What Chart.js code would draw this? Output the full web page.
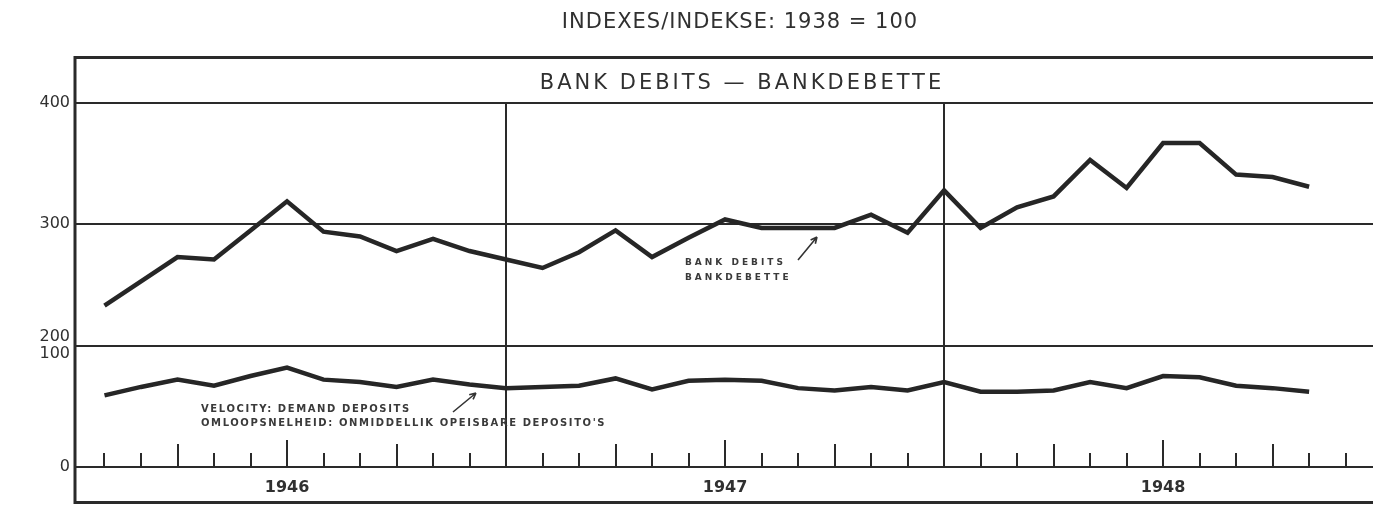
<!DOCTYPE html>
<html>
<head>
<meta charset="utf-8">
<script src="https://cdn.jsdelivr.net/npm/chart.js@4.4.1/dist/chart.umd.min.js"></script>
<style>
html,body{margin:0;padding:0;background:#ffffff;}
#wrap{width:1373px;height:506px;}
</style>
</head>
<body>
<div id="wrap"><canvas id="c" width="1373" height="506"></canvas></div>
<script>
// ---- data (monthly, Jan 1946 - Oct 1948), index 1938 = 100 ----
const months = [
  '1946-01','1946-02','1946-03','1946-04','1946-05','1946-06','1946-07','1946-08','1946-09','1946-10','1946-11','1946-12',
  '1947-01','1947-02','1947-03','1947-04','1947-05','1947-06','1947-07','1947-08','1947-09','1947-10','1947-11','1947-12',
  '1948-01','1948-02','1948-03','1948-04','1948-05','1948-06','1948-07','1948-08','1948-09','1948-10'
];
const bankDebits = [
  233, 253, 273, 271, 295, 319, 294, 290, 278, 288, 278, 271,
  264, 277, 295, 273, 289, 304, 297, 297, 297, 308, 293, 328,
  297, 314, 323, 353, 330, 367, 367, 341, 339, 331
];
const velocity = [
  59, 66, 72, 67, 75, 82, 72, 70, 66, 72, 68, 65,
  66, 67, 73, 64, 71, 72, 71, 65, 63, 66, 63, 70,
  62, 62, 63, 70, 65, 75, 74, 67, 65, 62
];
const years = ['1946', '1947', '1948'];
const yTickValues = [100, 200, 300, 400];
const yTickLabels = [['0'], ['200', '100'], ['300'], ['400']];
const tickMonthCount = 35; // month tick marks Jan 1946 .. Nov 1948

const INK = '#2a2a2a';
const TEXT = '#303030';

const monthIdx = Array.from({length: tickMonthCount}, (_, i) => i);

const framePlugin = {
  id: 'frame',
  beforeDraw(chart) {
    const ctx = chart.ctx;
    ctx.save();
    ctx.fillStyle = '#ffffff';
    ctx.fillRect(0, 0, chart.width, chart.height);
    ctx.restore();
  },
  afterDraw(chart) {
    const ctx = chart.ctx;
    const a = chart.chartArea;
    const xs = chart.scales.x;
    const ys = chart.scales.y;
    const base = ys.getPixelForValue(100);
    ctx.save();
    ctx.strokeStyle = INK;
    ctx.lineCap = 'butt';
    // outer frame
    ctx.lineWidth = 3;
    ctx.beginPath();
    ctx.moveTo(a.left, 56); ctx.lineTo(a.left, 504);
    ctx.moveTo(a.left - 1.5, 57.5); ctx.lineTo(chart.width, 57.5);
    ctx.moveTo(a.left - 1.5, 502.5); ctx.lineTo(chart.width, 502.5);
    ctx.stroke();
    // month tick marks
    ctx.lineWidth = 2;
    ctx.beginPath();
    monthIdx.forEach(i => {
      const m = i % 12;
      if (m === 11) return;
      let h = 14;
      if (m === 2 || m === 8) h = 23;
      if (m === 5) h = 27;
      const px = Math.round(xs.getPixelForValue(i));
      ctx.moveTo(px, base);
      ctx.lineTo(px, base - h);
    });
    ctx.stroke();

    // texts
    const setLS = v => { if ('letterSpacing' in ctx) ctx.letterSpacing = v; };
    ctx.fillStyle = TEXT;
    ctx.textBaseline = 'middle';
    ctx.textAlign = 'center';
    ctx.font = '21px "DejaVu Sans"';
    setLS('1px');
    ctx.fillText('INDEXES/INDEKSE: 1938 = 100', 740, 23);
    ctx.font = '21px "DejaVu Sans"';
    setLS('3px');
    ctx.fillText('BANK DEBITS \u2014 BANKDEBETTE', 742, 84);

    ctx.textAlign = 'left';
    ctx.fillStyle = '#3a3a3a';
    ctx.font = 'bold 9px "DejaVu Sans"';
    setLS('3px');
    ctx.fillText('BANK DEBITS', 685, 263);
    ctx.fillText('BANKDEBETTE', 685, 278);

    ctx.font = 'bold 10px "DejaVu Sans"';
    setLS('1.6px');
    ctx.fillText('VELOCITY: DEMAND DEPOSITS', 201, 409);
    ctx.fillText("OMLOOPSNELHEID: ONMIDDELLIK OPEISBARE DEPOSITO'S", 201, 423);
    setLS('0px');

    // arrows
    const arrow = (x1, y1, x2, y2) => {
      ctx.beginPath();
      ctx.moveTo(x1, y1); ctx.lineTo(x2, y2);
      const ang = Math.atan2(y2 - y1, x2 - x1);
      const L = 7;
      ctx.moveTo(x2, y2); ctx.lineTo(x2 - L * Math.cos(ang - 0.45), y2 - L * Math.sin(ang - 0.45));
      ctx.moveTo(x2, y2); ctx.lineTo(x2 - L * Math.cos(ang + 0.45), y2 - L * Math.sin(ang + 0.45));
      ctx.stroke();
    };
    ctx.strokeStyle = '#333';
    ctx.lineWidth = 1.6;
    arrow(798, 260, 817, 237);
    arrow(453, 412, 476, 393);
    ctx.restore();
  }
};

const chart = new Chart(document.getElementById('c'), {
  type: 'line',
  data: {
    datasets: [
      {
        label: 'Bank debits',
        data: bankDebits.map((v, i) => ({x: i, y: v})),
        yAxisID: 'y',
        borderColor: '#262626',
        borderWidth: 4.5,
        borderJoinStyle: 'miter',
        borderCapStyle: 'butt',
        pointRadius: 0,
        tension: 0,
        fill: false
      },
      {
        label: 'Velocity: demand deposits',
        data: velocity.map((v, i) => ({x: i, y: v})),
        yAxisID: 'y2',
        borderColor: '#262626',
        borderWidth: 4.5,
        borderJoinStyle: 'miter',
        borderCapStyle: 'butt',
        pointRadius: 0,
        tension: 0,
        fill: false
      }
    ]
  },
  options: {
    responsive: false,
    animation: false,
    events: [],
    layout: {padding: {top: 103, bottom: 4, left: 0, right: 0}},
    plugins: {legend: {display: false}, tooltip: {enabled: false}, title: {display: false}},
    scales: {
      x: {
        type: 'linear',
        position: 'bottom',
        min: -0.808,
        max: 34.75,
        afterBuildTicks: s => { s.ticks = monthIdx.map(v => ({value: v})); },
        afterFit: s => { s.height = 35; },
        border: {display: false},
        grid: {
          drawTicks: false,
          lineWidth: 2,
          color: c => (c.tick && c.tick.value % 12 === 11) ? INK : 'rgba(0,0,0,0)'
        },
        ticks: {
          autoSkip: false,
          maxRotation: 0,
          padding: 11,
          color: TEXT,
          font: {family: '"DejaVu Sans"', size: 16, weight: 'bold'},
          callback: v => (v % 12 === 5) ? years[Math.floor(v / 12)] : ''
        }
      },
      y: {
        type: 'linear',
        position: 'left',
        min: 100,
        max: 400,
        afterBuildTicks: s => { s.ticks = yTickValues.map(v => ({value: v})); },
        afterFit: s => { s.width = 75; },
        border: {display: false},
        grid: {drawTicks: false, lineWidth: 2, color: INK},
        ticks: {
          padding: 5,
          color: TEXT,
          font: {family: '"DejaVu Sans"', size: 16, lineHeight: 1.05},
          callback: v => {
            const k = yTickValues.indexOf(v);
            return k >= 0 ? yTickLabels[k] : '';
          }
        }
      },
      y2: {
        type: 'linear',
        display: false,
        min: 0,
        max: 300
      }
    }
  },
  plugins: [framePlugin]
});
</script>
</body>
</html>
